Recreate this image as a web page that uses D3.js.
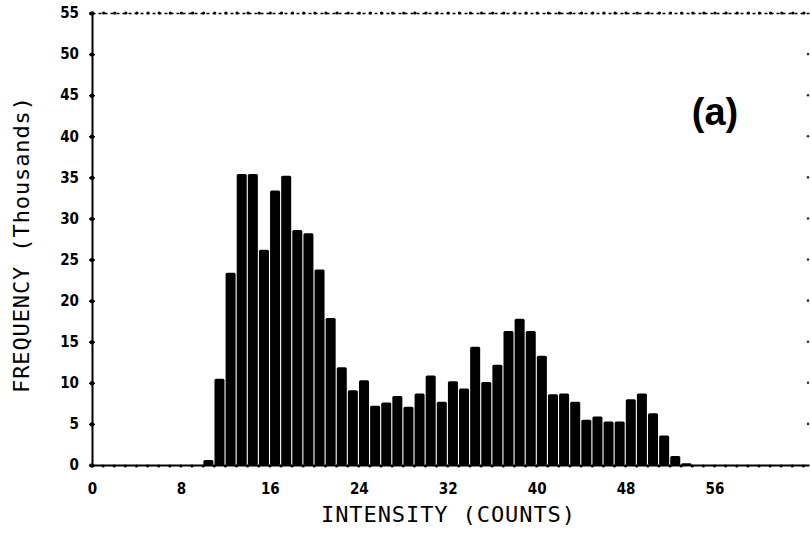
<!DOCTYPE html>
<html>
<head>
<meta charset="utf-8">
<script src="https://cdn.jsdelivr.net/npm/d3@7"></script>
<style>
  body { margin: 0; background: #fff; }
  .tick text { font-family: "DejaVu Sans Condensed", "DejaVu Sans", sans-serif; font-weight: bold; font-size: 15px; fill: #000; }
</style>
</head>
<body>
<svg id="area" width="810" height="544"></svg>
<script>

// intensity bins (counts) and frequency in thousands
let bins = [10, 11, 12, 13, 14, 15, 16, 17, 18, 19, 20, 21, 22, 23, 24, 25, 26, 27, 28, 29, 30, 31,
            32, 33, 34, 35, 36, 37, 38, 39, 40, 41, 42, 43, 44, 45, 46, 47, 48, 49, 50, 51, 52, 53];
let freq = [0.6, 10.5, 23.4, 35.4, 35.4, 26.2, 33.4, 35.2, 28.6, 28.2, 23.8, 17.9, 11.9, 9.1, 10.3, 7.2, 7.6, 8.4, 7.1, 8.7, 10.9, 7.7,
            10.2, 9.3, 14.4, 10.1, 12.2, 16.3, 17.8, 16.3, 13.3, 8.6, 8.7, 7.7, 5.5, 5.9, 5.3, 5.3, 8.0, 8.7, 6.3, 3.6, 1.1, 0.2];
let xTicks = [0, 8, 16, 24, 32, 40, 48, 56];
let yTicks = [0, 5, 10, 15, 20, 25, 30, 35, 40, 45, 50, 55];

let data = bins.map((b, i) => ({bin: b, value: freq[i]}));

let svg = d3.select("#area");

let xScale = d3.scaleLinear()
    .domain([0, 64.5])
    .range([92, 809]);
let yScale = d3.scaleLinear()
    .domain([0, 55])
    .range([465, 13]);

// bars
svg.append("g")
    .selectAll("rect")
    .data(data)
    .enter()
    .append("rect")
    .attr("x", d => xScale(d.bin) + 0.2)
    .attr("width", d => xScale(d.bin + 1) - xScale(d.bin) - 1.1)
    .attr("y", d => yScale(d.value))
    .attr("height", d => yScale(0) - yScale(d.value))
    .attr("rx", 1.5)
    .style("fill", "#000");

// top frame: dotted line
svg.append("g")
    .attr("transform", "translate(0," + yScale(55) + ")")
    .call(d3.axisTop(xScale).tickValues(d3.range(1, 65)).tickSize(0).tickFormat(""))
    .call(g => g.select(".domain").style("stroke-dasharray", "3,3").style("stroke-width", "1.5px"))
    .call(g => g.selectAll(".tick").append("circle").attr("r", 1.6).style("fill", "#000"));

// right frame: only faint dots remain
svg.append("g")
    .selectAll("circle")
    .data(yTicks.filter(v => v > 0 && v < 55))
    .enter()
    .append("circle")
    .attr("cx", 808)
    .attr("cy", d => yScale(d))
    .attr("r", 1.3)
    .style("fill", "#333");

// bottom axis
let bottomAxis = d3.axisBottom(xScale).tickValues(xTicks).tickSize(0).tickPadding(18);
svg.append("g")
    .attr("class", "axis")
    .attr("transform", "translate(0," + yScale(0) + ")")
    .call(bottomAxis)
    .call(g => g.select(".domain").style("stroke-width", "2px"));

svg.append("g")
    .selectAll("circle")
    .data(d3.range(1, 65))
    .enter()
    .append("circle")
    .attr("cx", d => xScale(d))
    .attr("cy", yScale(0) + 1)
    .attr("r", 1.5)
    .style("fill", "#000");

// left axis
let leftAxis = d3.axisLeft(yScale).tickValues(yTicks).tickSize(3).tickPadding(10);
svg.append("g")
    .attr("class", "axis")
    .attr("transform", "translate(" + xScale(0) + ",0)")
    .call(leftAxis)
    .call(g => g.select(".domain").style("stroke-width", "2px"))
    .call(g => g.selectAll(".tick line").attr("x2", 3).attr("x1", -3).style("stroke-width", "1.5px"))
    .call(g => g.selectAll(".tick").append("circle").attr("r", 2.2).style("fill", "#000"));

// axis titles
svg.append("text")
    .attr("x", 448)
    .attr("y", 522)
    .attr("text-anchor", "middle")
    .attr("textLength", 254)
    .style("font-family", "DejaVu Sans Mono")
    .style("font-size", "22px")
    .text("INTENSITY  (COUNTS)");

svg.append("text")
    .attr("transform", "translate(29,245) rotate(-90)")
    .attr("text-anchor", "middle")
    .attr("textLength", 296)
    .style("font-family", "DejaVu Sans Mono")
    .style("font-size", "22px")
    .text("FREQUENCY  (Thousands)");

svg.append("text")
    .attr("x", 715)
    .attr("y", 125)
    .attr("text-anchor", "middle")
    .style("font-family", "Liberation Sans, Arial, sans-serif")
    .style("font-weight", "bold")
    .style("font-size", "38px")
    .text("(a)");

</script>
</body>
</html>
